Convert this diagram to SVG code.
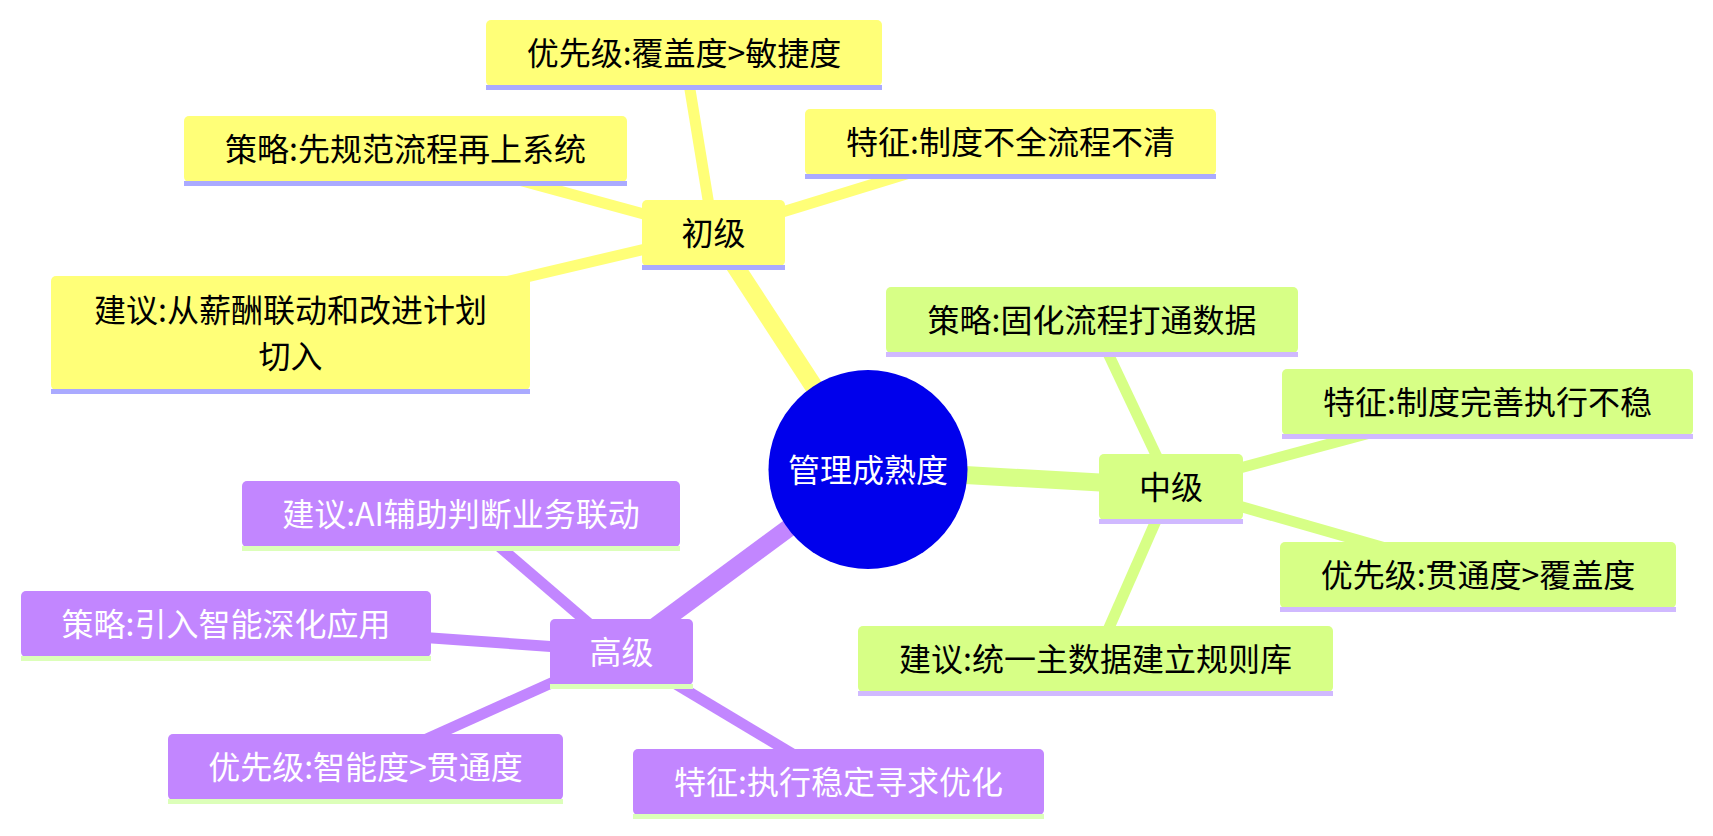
<svg xmlns="http://www.w3.org/2000/svg" width="1713" height="836" viewBox="0 0 1713 836">
<style>
text{font-family:"Noto Sans CJK SC","Noto Sans",sans-serif;font-size:32px;text-anchor:middle}
.s0 rect.b{fill:#ffff78}.s0 rect.u{fill:#aaaaff}.s0 text{fill:#000}
.s1 rect.b{fill:#d7ff86}.s1 rect.u{fill:#d0b9ff}.s1 text{fill:#000}
.s2 rect.b{fill:#c286ff}.s2 rect.u{fill:#dcffb9}.s2 text{fill:#fff}
.e0{stroke:#ffff78}.e1{stroke:#d7ff86}.e2{stroke:#c286ff}
#edges line{stroke-linecap:butt}
.d0{stroke-width:18}.d1{stroke-width:11}
</style>
<rect width="1713" height="836" fill="#ffffff"/>
<g id="edges">
<line class="e0 d0" x1="868" y1="469.5" x2="713.5" y2="233"/>
<line class="e1 d0" x1="868" y1="469.5" x2="1171" y2="486.5"/>
<line class="e2 d0" x1="868" y1="469.5" x2="621.5" y2="651.5"/>
<line class="e0 d1" x1="713.5" y1="233" x2="684" y2="53"/>
<line class="e0 d1" x1="713.5" y1="233" x2="405.5" y2="149"/>
<line class="e0 d1" x1="713.5" y1="233" x2="1010.5" y2="142"/>
<line class="e0 d1" x1="713.5" y1="233" x2="290.5" y2="332.5"/>
<line class="e1 d1" x1="1171" y1="486.5" x2="1092" y2="319.5"/>
<line class="e1 d1" x1="1171" y1="486.5" x2="1487.5" y2="401.5"/>
<line class="e1 d1" x1="1171" y1="486.5" x2="1478" y2="574.5"/>
<line class="e1 d1" x1="1171" y1="486.5" x2="1095.5" y2="658.5"/>
<line class="e2 d1" x1="621.5" y1="651.5" x2="461" y2="513.5"/>
<line class="e2 d1" x1="621.5" y1="651.5" x2="226" y2="623.5"/>
<line class="e2 d1" x1="621.5" y1="651.5" x2="365.5" y2="766.5"/>
<line class="e2 d1" x1="621.5" y1="651.5" x2="838.5" y2="781.5"/>
</g>
<g id="root">
<circle cx="868" cy="469.5" r="99.5" fill="#0000ec"/>
<text x="868" y="481.5" fill="#fff">管理成熟度</text>
</g>
<g id="n-chuji" class="s0">
<rect class="b" x="642" y="200" width="143" height="66" rx="5"/>
<rect class="u" x="642" y="265" width="143" height="5"/>
<text x="713.5" y="245">初级</text>
</g>
<g id="n-y1" class="s0">
<rect class="b" x="486" y="20" width="396" height="66" rx="5"/>
<rect class="u" x="486" y="85" width="396" height="5"/>
<text x="684" y="65">优先级:覆盖度&gt;敏捷度</text>
</g>
<g id="n-y2" class="s0">
<rect class="b" x="184" y="116" width="443" height="66" rx="5"/>
<rect class="u" x="184" y="181" width="443" height="5"/>
<text x="405.5" y="161">策略:先规范流程再上系统</text>
</g>
<g id="n-y3" class="s0">
<rect class="b" x="805" y="109" width="411" height="66" rx="5"/>
<rect class="u" x="805" y="174" width="411" height="5"/>
<text x="1010.5" y="154">特征:制度不全流程不清</text>
</g>
<g id="n-y4" class="s0">
<rect class="b" x="51" y="276" width="479" height="114" rx="5"/>
<rect class="u" x="51" y="389" width="479" height="5"/>
<text x="290.5" y="322">建议:从薪酬联动和改进计划</text>
<text x="290.5" y="368">切入</text>
</g>
<g id="n-zhongji" class="s1">
<rect class="b" x="1099" y="454" width="144" height="66" rx="5"/>
<rect class="u" x="1099" y="519" width="144" height="5"/>
<text x="1171" y="498.5">中级</text>
</g>
<g id="n-g1" class="s1">
<rect class="b" x="886" y="287" width="412" height="66" rx="5"/>
<rect class="u" x="886" y="352" width="412" height="5"/>
<text x="1092" y="331.5">策略:固化流程打通数据</text>
</g>
<g id="n-g2" class="s1">
<rect class="b" x="1282" y="369" width="411" height="66" rx="5"/>
<rect class="u" x="1282" y="434" width="411" height="5"/>
<text x="1487.5" y="413.5">特征:制度完善执行不稳</text>
</g>
<g id="n-g3" class="s1">
<rect class="b" x="1280" y="542" width="396" height="66" rx="5"/>
<rect class="u" x="1280" y="607" width="396" height="5"/>
<text x="1478" y="586.5">优先级:贯通度&gt;覆盖度</text>
</g>
<g id="n-g4" class="s1">
<rect class="b" x="858" y="626" width="475" height="66" rx="5"/>
<rect class="u" x="858" y="691" width="475" height="5"/>
<text x="1095.5" y="670.5">建议:统一主数据建立规则库</text>
</g>
<g id="n-gaoji" class="s2">
<rect class="b" x="550" y="619" width="143" height="66" rx="5"/>
<rect class="u" x="550" y="684" width="143" height="5"/>
<text x="621.5" y="663.5">高级</text>
</g>
<g id="n-p1" class="s2">
<rect class="b" x="242" y="481" width="438" height="66" rx="5"/>
<rect class="u" x="242" y="546" width="438" height="5"/>
<text x="461" y="525.5">建议:AI辅助判断业务联动</text>
</g>
<g id="n-p2" class="s2">
<rect class="b" x="21" y="591" width="410" height="66" rx="5"/>
<rect class="u" x="21" y="656" width="410" height="5"/>
<text x="226" y="635.5">策略:引入智能深化应用</text>
</g>
<g id="n-p3" class="s2">
<rect class="b" x="168" y="734" width="395" height="66" rx="5"/>
<rect class="u" x="168" y="799" width="395" height="5"/>
<text x="365.5" y="778.5">优先级:智能度&gt;贯通度</text>
</g>
<g id="n-p4" class="s2">
<rect class="b" x="633" y="749" width="411" height="66" rx="5"/>
<rect class="u" x="633" y="814" width="411" height="5"/>
<text x="838.5" y="793.5">特征:执行稳定寻求优化</text>
</g>
</svg>
